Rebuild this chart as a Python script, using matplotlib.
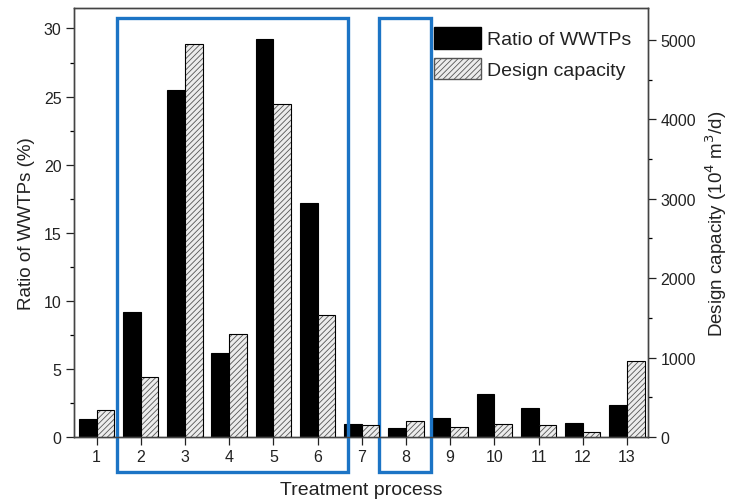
import numpy as np
import matplotlib
matplotlib.use("Agg")
from matplotlib import pyplot as plt
from matplotlib.patches import Rectangle, Patch

plt.rcParams['font.family'] = ['Liberation Sans', 'DejaVu Sans']
plt.rcParams['hatch.linewidth'] = 0.6

# data
process = np.arange(1, 14)
ratio_wwtps = [1.3, 9.2, 25.45, 6.2, 29.2, 17.2, 0.95, 0.64, 1.37, 3.14, 2.1, 1.05, 2.38]
design_cap = [340, 752, 4950, 1297, 4194, 1536, 151, 198, 122, 164, 151, 67, 961]
boxes = [(1.47, 6.68), (7.39, 8.56)]   # highlighted groups (x range)

fig = plt.figure(figsize=(7.35, 5.02), dpi=100)
ax = fig.add_axes([0.1007, 0.1275, 0.7809, 0.8545])
ax2 = ax.twinx()

w = 0.4
ax.bar(process - w/2, ratio_wwtps, width=w, color='black', edgecolor='black', lw=0.8)
ax2.bar(process + w/2, design_cap, width=w, color='#ececec', edgecolor='#555555', lw=0,
        hatch='//////')
ax2.bar(process + w/2, design_cap, width=w, fill=False, edgecolor='black', lw=0.8)

ax.set_xlim(0.49, 13.475)
ax.set_ylim(0, 31.5)
ax2.set_ylim(0, 5400)
ax.set_xticks(process)
ax.set_yticks(np.arange(0, 31, 5))
ax.set_yticks(np.arange(2.5, 31, 5), minor=True)
ax2.set_yticks(np.arange(0, 5001, 1000))
ax2.set_yticks(np.arange(500, 5001, 1000), minor=True)

for a in (ax, ax2):
    a.tick_params(axis='both', which='major', direction='out', length=6, width=0.9,
                  labelsize=11.5, colors='#222222', pad=3)
    a.tick_params(axis='both', which='minor', direction='out', length=3, width=0.9)
    for s in a.spines.values():
        s.set_color('#444444')
        s.set_linewidth(1.0)

ax.set_xlabel('Treatment process', fontsize=14, labelpad=12, color='#222222')
ax.set_ylabel('Ratio of WWTPs (%)', fontsize=13.5, labelpad=6, color='#222222')
ax2.set_ylabel('Design capacity (10$^4$ m$^3$/d)', fontsize=13.5, labelpad=5, color='#222222')

# legend
handles = [Patch(facecolor='black', edgecolor='black', label='Ratio of WWTPs'),
           Patch(facecolor='#ececec', edgecolor='#555555', hatch='//////', label='Design capacity')]
ax2.legend(handles=handles, loc='upper left', bbox_to_anchor=(0.627, 0.955), frameon=False,
           fontsize=14, handlelength=2.4, handleheight=1.3, handletextpad=0.35,
           labelspacing=0.5, borderaxespad=0, borderpad=0, labelcolor='#222222')

# blue highlight boxes
for x0, x1 in boxes:
    ax.add_patch(Rectangle((x0, -2.57), x1 - x0, 30.8 + 2.57, fill=False,
                           edgecolor='#1c74c5', lw=2.4, clip_on=False, zorder=5))

fig.savefig('out.png', dpi=100)
